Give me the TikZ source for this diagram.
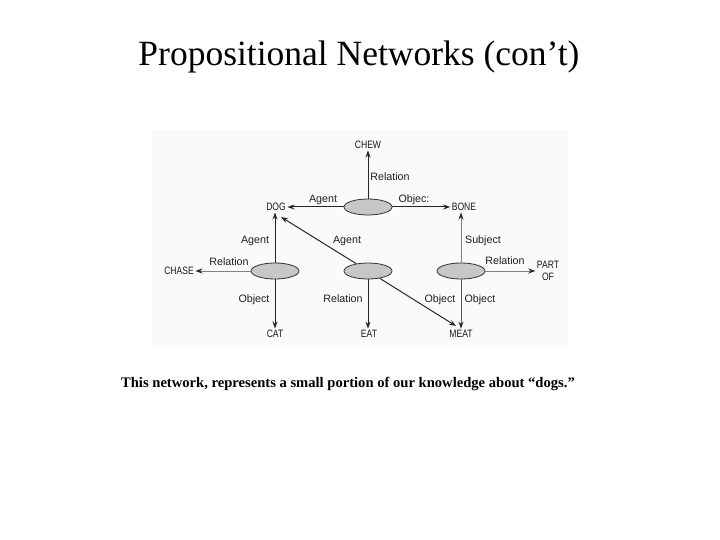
\documentclass[tikz,border=0pt]{standalone}
\usepackage{fontspec}
\setmainfont{Liberation Serif}
\newfontfamily\diagfont{Liberation Sans}
\newfontfamily\capsfont[FakeStretch=0.8]{Liberation Sans}
\usetikzlibrary{shapes.geometric,arrows.meta}
\begin{document}
\begin{tikzpicture}[x=1pt,y=-1pt,
  prop/.style={ellipse, draw=black!80, fill=black!22, minimum width=48pt, minimum height=16pt, inner sep=0pt, line width=0.8pt},
  concept/.style={font=\capsfont\fontsize{10.7}{12}\selectfont, inner sep=1.5pt, text=black!90},
  lab/.style={font=\diagfont\fontsize{10.7}{12}\selectfont, inner sep=0pt, text=black!88, text height=7.8pt, text depth=2.2pt},
  link/.style={line width=1pt, draw=black!85, -{Stealth[length=7pt,width=5pt,color=black!85]}},
  glink/.style={link, draw=black!50},
  mlink/.style={link, draw=black!65}
]
\useasboundingbox (0,0) rectangle (720,540);
\fill[white] (0,0) rectangle (720,540);
\fill[black!2] (152,130) rectangle (568,346);

\node[font=\fontsize{35.5}{40}\selectfont, anchor=base, inner sep=0pt] (title) at (359,66) {Propositional Networks (con’t)};
\node[font=\bfseries\fontsize{14.6}{16}\selectfont, anchor=base, inner sep=0pt] (caption) at (348,387) {This network, represents a small portion of our knowledge about “dogs.”};

% concepts
\node[concept] (chew) at (368,145) {CHEW};
\node[concept] (dog) at (276,207) {DOG};
\node[concept] (bone) at (464,207) {BONE};
\node[concept] (chase) at (179,271) {CHASE};
\node[concept, align=center] (partof) at (548,271) {PART\\OF};
\node[concept] (cat) at (275,334) {CAT};
\node[concept] (eat) at (369,334) {EAT};
\node[concept] (meat) at (461,334) {MEAT};

% propositions
\node[prop] (ptop) at (368,207) {};
\node[prop] (pleft) at (275,271) {};
\node[prop] (pmid) at (368,271) {};
\node[prop] (pright) at (461,271) {};

\coordinate (dogtip) at (281,217);
\coordinate (meattip) at (456,326);

% connectors
\draw[link] (ptop) -- (ptop |- chew.south);
\draw[link] (ptop) -- (dog);
\draw[link] (ptop) -- (bone);
\draw[link] (pleft) -- (pleft |- dog.south);
\draw[glink] (pleft) -- (chase);
\draw[link] (pleft) -- (pleft |- cat.north);
\draw[link] (pmid) -- (dogtip);
\draw[link] (pmid) -- (meattip);
\draw[link] (pmid) -- (pmid |- eat.north);
\draw[glink] (pright) -- (pright |- bone.south);
\draw[glink] (pright) -- (partof.west |- pright);
\draw[mlink] (pright) -- (pright |- meat.north);

% labels
\node[lab] (l1) at (390,178) {Relation};
\node[lab] (l2) at (323,200) {Agent};
\node[lab] (l3) at (414,200) {Objec:};
\node[lab] (l4) at (255,241) {Agent};
\node[lab] (l5) at (347,241) {Agent};
\node[lab] (l6) at (483,241) {Subject};
\node[lab] (l7) at (229,263) {Relation};
\node[lab] (l8) at (505,262) {Relation};
\node[lab] (l9) at (254,300) {Object};
\node[lab] (l10) at (343,300) {Relation};
\node[lab] (l11) at (440,300) {Object};
\node[lab] (l12) at (480,300) {Object};
\end{tikzpicture}
\end{document}
